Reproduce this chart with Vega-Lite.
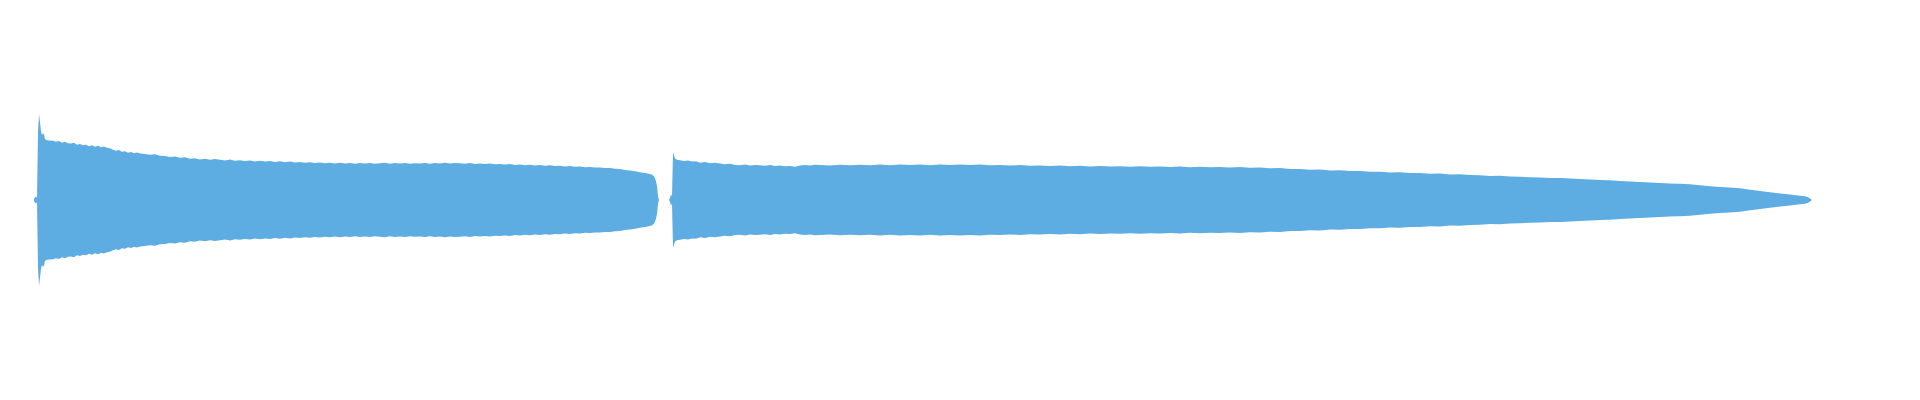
{
  "$schema": "https://vega.github.io/schema/vega-lite/v6.json",
  "width": 1920,
  "height": 400,
  "padding": 0,
  "autosize": {"type": "fit", "contains": "padding"},
  "background": "white",
  "config": {"view": {"stroke": null}},
  "data": {"values": [
    {"seg":1,"t":34,"amp":0.012},{"seg":1,"t":35,"amp":0.027},{"seg":1,"t":36,"amp":0.032},{"seg":1,"t":37,"amp":0.022},
    {"seg":1,"t":38,"amp":0.677},{"seg":1,"t":39,"amp":0.857},{"seg":1,"t":40,"amp":0.777},{"seg":1,"t":41,"amp":0.687},
    {"seg":1,"t":42,"amp":0.647},{"seg":1,"t":43,"amp":0.667},{"seg":1,"t":44,"amp":0.657},{"seg":1,"t":45,"amp":0.607},
    {"seg":1,"t":47,"amp":0.597},{"seg":1,"t":50,"amp":0.594},{"seg":1,"t":53,"amp":0.592},{"seg":1,"t":56,"amp":0.582},
    {"seg":1,"t":59,"amp":0.589},{"seg":1,"t":62,"amp":0.572},{"seg":1,"t":65,"amp":0.582},{"seg":1,"t":68,"amp":0.567},
    {"seg":1,"t":71,"amp":0.565},{"seg":1,"t":74,"amp":0.572},{"seg":1,"t":77,"amp":0.552},{"seg":1,"t":80,"amp":0.559},
    {"seg":1,"t":83,"amp":0.547},{"seg":1,"t":86,"amp":0.552},{"seg":1,"t":89,"amp":0.537},{"seg":1,"t":92,"amp":0.547},
    {"seg":1,"t":95,"amp":0.532},{"seg":1,"t":98,"amp":0.542},{"seg":1,"t":101,"amp":0.527},{"seg":1,"t":104,"amp":0.535},
    {"seg":1,"t":107,"amp":0.522},{"seg":1,"t":110,"amp":0.517},{"seg":1,"t":113,"amp":0.502},{"seg":1,"t":116,"amp":0.492},
    {"seg":1,"t":119,"amp":0.499},{"seg":1,"t":122,"amp":0.482},{"seg":1,"t":125,"amp":0.487},{"seg":1,"t":128,"amp":0.472},
    {"seg":1,"t":131,"amp":0.479},{"seg":1,"t":134,"amp":0.467},{"seg":1,"t":137,"amp":0.475},{"seg":1,"t":140,"amp":0.465},
    {"seg":1,"t":145,"amp":0.459},{"seg":1,"t":150,"amp":0.452},{"seg":1,"t":155,"amp":0.457},{"seg":1,"t":160,"amp":0.442},
    {"seg":1,"t":165,"amp":0.439},{"seg":1,"t":170,"amp":0.429},{"seg":1,"t":175,"amp":0.435},{"seg":1,"t":180,"amp":0.422},
    {"seg":1,"t":185,"amp":0.427},{"seg":1,"t":190,"amp":0.412},{"seg":1,"t":195,"amp":0.417},{"seg":1,"t":200,"amp":0.404},
    {"seg":1,"t":205,"amp":0.412},{"seg":1,"t":210,"amp":0.402},{"seg":1,"t":215,"amp":0.409},{"seg":1,"t":220,"amp":0.402},
    {"seg":1,"t":225,"amp":0.395},{"seg":1,"t":230,"amp":0.404},{"seg":1,"t":235,"amp":0.392},{"seg":1,"t":240,"amp":0.397},
    {"seg":1,"t":245,"amp":0.389},{"seg":1,"t":250,"amp":0.395},{"seg":1,"t":255,"amp":0.385},{"seg":1,"t":260,"amp":0.392},
    {"seg":1,"t":265,"amp":0.384},{"seg":1,"t":270,"amp":0.389},{"seg":1,"t":275,"amp":0.379},{"seg":1,"t":280,"amp":0.387},
    {"seg":1,"t":285,"amp":0.377},{"seg":1,"t":290,"amp":0.384},{"seg":1,"t":295,"amp":0.375},{"seg":1,"t":300,"amp":0.379},
    {"seg":1,"t":305,"amp":0.372},{"seg":1,"t":310,"amp":0.378},{"seg":1,"t":315,"amp":0.369},{"seg":1,"t":320,"amp":0.375},
    {"seg":1,"t":325,"amp":0.367},{"seg":1,"t":330,"amp":0.373},{"seg":1,"t":335,"amp":0.366},{"seg":1,"t":340,"amp":0.372},
    {"seg":1,"t":345,"amp":0.365},{"seg":1,"t":350,"amp":0.371},{"seg":1,"t":355,"amp":0.363},{"seg":1,"t":360,"amp":0.369},
    {"seg":1,"t":365,"amp":0.364},{"seg":1,"t":370,"amp":0.371},{"seg":1,"t":375,"amp":0.362},{"seg":1,"t":380,"amp":0.367},
    {"seg":1,"t":385,"amp":0.372},{"seg":1,"t":390,"amp":0.363},{"seg":1,"t":395,"amp":0.369},{"seg":1,"t":400,"amp":0.364},
    {"seg":1,"t":405,"amp":0.370},{"seg":1,"t":410,"amp":0.362},{"seg":1,"t":415,"amp":0.368},{"seg":1,"t":420,"amp":0.365},
    {"seg":1,"t":425,"amp":0.371},{"seg":1,"t":430,"amp":0.363},{"seg":1,"t":435,"amp":0.370},{"seg":1,"t":440,"amp":0.364},
    {"seg":1,"t":445,"amp":0.372},{"seg":1,"t":450,"amp":0.365},{"seg":1,"t":455,"amp":0.371},{"seg":1,"t":460,"amp":0.367},
    {"seg":1,"t":465,"amp":0.362},{"seg":1,"t":470,"amp":0.369},{"seg":1,"t":475,"amp":0.361},{"seg":1,"t":480,"amp":0.366},
    {"seg":1,"t":485,"amp":0.359},{"seg":1,"t":490,"amp":0.364},{"seg":1,"t":495,"amp":0.357},{"seg":1,"t":500,"amp":0.361},
    {"seg":1,"t":505,"amp":0.354},{"seg":1,"t":510,"amp":0.359},{"seg":1,"t":515,"amp":0.351},{"seg":1,"t":520,"amp":0.356},
    {"seg":1,"t":525,"amp":0.348},{"seg":1,"t":530,"amp":0.352},{"seg":1,"t":535,"amp":0.345},{"seg":1,"t":540,"amp":0.350},
    {"seg":1,"t":545,"amp":0.342},{"seg":1,"t":550,"amp":0.347},{"seg":1,"t":555,"amp":0.339},{"seg":1,"t":560,"amp":0.343},
    {"seg":1,"t":565,"amp":0.335},{"seg":1,"t":570,"amp":0.339},{"seg":1,"t":575,"amp":0.332},{"seg":1,"t":580,"amp":0.335},
    {"seg":1,"t":585,"amp":0.328},{"seg":1,"t":590,"amp":0.331},{"seg":1,"t":595,"amp":0.324},{"seg":1,"t":600,"amp":0.325},
    {"seg":1,"t":605,"amp":0.319},{"seg":1,"t":610,"amp":0.321},{"seg":1,"t":615,"amp":0.313},{"seg":1,"t":620,"amp":0.310},
    {"seg":1,"t":625,"amp":0.301},{"seg":1,"t":630,"amp":0.294},{"seg":1,"t":635,"amp":0.287},{"seg":1,"t":640,"amp":0.277},
    {"seg":1,"t":645,"amp":0.269},{"seg":1,"t":650,"amp":0.260},{"seg":1,"t":652,"amp":0.252},{"seg":1,"t":654,"amp":0.237},
    {"seg":1,"t":655,"amp":0.214},{"seg":1,"t":656,"amp":0.187},{"seg":1,"t":657,"amp":0.137},{"seg":1,"t":658,"amp":0.037},
    {"seg":1,"t":659,"amp":0.0},
    {"seg":2,"t":669,"amp":0.0},{"seg":2,"t":670,"amp":0.017},{"seg":2,"t":671,"amp":0.057},{"seg":2,"t":672,"amp":0.037},
    {"seg":2,"t":673,"amp":0.477},{"seg":2,"t":674,"amp":0.447},{"seg":2,"t":675,"amp":0.414},{"seg":2,"t":677,"amp":0.402},
    {"seg":2,"t":680,"amp":0.397},{"seg":2,"t":684,"amp":0.389},{"seg":2,"t":688,"amp":0.395},{"seg":2,"t":692,"amp":0.384},
    {"seg":2,"t":696,"amp":0.387},{"seg":2,"t":700,"amp":0.372},{"seg":2,"t":705,"amp":0.379},{"seg":2,"t":710,"amp":0.367},
    {"seg":2,"t":715,"amp":0.373},{"seg":2,"t":720,"amp":0.364},{"seg":2,"t":725,"amp":0.357},{"seg":2,"t":730,"amp":0.363},
    {"seg":2,"t":735,"amp":0.351},{"seg":2,"t":740,"amp":0.347},{"seg":2,"t":745,"amp":0.354},{"seg":2,"t":750,"amp":0.344},
    {"seg":2,"t":755,"amp":0.351},{"seg":2,"t":760,"amp":0.347},{"seg":2,"t":765,"amp":0.342},{"seg":2,"t":770,"amp":0.349},
    {"seg":2,"t":775,"amp":0.341},{"seg":2,"t":780,"amp":0.345},{"seg":2,"t":785,"amp":0.337},{"seg":2,"t":790,"amp":0.340},
    {"seg":2,"t":795,"amp":0.332},{"seg":2,"t":800,"amp":0.344},{"seg":2,"t":805,"amp":0.351},{"seg":2,"t":810,"amp":0.345},
    {"seg":2,"t":815,"amp":0.352},{"seg":2,"t":820,"amp":0.350},{"seg":2,"t":830,"amp":0.346},{"seg":2,"t":840,"amp":0.353},
    {"seg":2,"t":850,"amp":0.347},{"seg":2,"t":860,"amp":0.352},{"seg":2,"t":870,"amp":0.347},{"seg":2,"t":880,"amp":0.354},
    {"seg":2,"t":890,"amp":0.348},{"seg":2,"t":900,"amp":0.355},{"seg":2,"t":910,"amp":0.349},{"seg":2,"t":920,"amp":0.355},
    {"seg":2,"t":930,"amp":0.348},{"seg":2,"t":940,"amp":0.354},{"seg":2,"t":950,"amp":0.351},{"seg":2,"t":960,"amp":0.356},
    {"seg":2,"t":970,"amp":0.349},{"seg":2,"t":980,"amp":0.354},{"seg":2,"t":990,"amp":0.347},{"seg":2,"t":1000,"amp":0.351},
    {"seg":2,"t":1010,"amp":0.344},{"seg":2,"t":1020,"amp":0.349},{"seg":2,"t":1030,"amp":0.342},{"seg":2,"t":1040,"amp":0.346},
    {"seg":2,"t":1050,"amp":0.340},{"seg":2,"t":1060,"amp":0.345},{"seg":2,"t":1070,"amp":0.338},{"seg":2,"t":1080,"amp":0.342},
    {"seg":2,"t":1090,"amp":0.336},{"seg":2,"t":1100,"amp":0.339},{"seg":2,"t":1110,"amp":0.334},{"seg":2,"t":1120,"amp":0.338},
    {"seg":2,"t":1130,"amp":0.333},{"seg":2,"t":1140,"amp":0.337},{"seg":2,"t":1150,"amp":0.332},{"seg":2,"t":1160,"amp":0.336},
    {"seg":2,"t":1170,"amp":0.330},{"seg":2,"t":1180,"amp":0.334},{"seg":2,"t":1190,"amp":0.328},{"seg":2,"t":1200,"amp":0.332},
    {"seg":2,"t":1210,"amp":0.327},{"seg":2,"t":1220,"amp":0.331},{"seg":2,"t":1230,"amp":0.325},{"seg":2,"t":1240,"amp":0.329},
    {"seg":2,"t":1250,"amp":0.322},{"seg":2,"t":1260,"amp":0.326},{"seg":2,"t":1270,"amp":0.318},{"seg":2,"t":1280,"amp":0.320},
    {"seg":2,"t":1290,"amp":0.311},{"seg":2,"t":1300,"amp":0.310},{"seg":2,"t":1310,"amp":0.303},{"seg":2,"t":1320,"amp":0.304},
    {"seg":2,"t":1330,"amp":0.296},{"seg":2,"t":1340,"amp":0.297},{"seg":2,"t":1350,"amp":0.289},{"seg":2,"t":1360,"amp":0.291},
    {"seg":2,"t":1370,"amp":0.282},{"seg":2,"t":1380,"amp":0.283},{"seg":2,"t":1390,"amp":0.276},{"seg":2,"t":1400,"amp":0.278},
    {"seg":2,"t":1410,"amp":0.270},{"seg":2,"t":1420,"amp":0.271},{"seg":2,"t":1430,"amp":0.263},{"seg":2,"t":1440,"amp":0.264},
    {"seg":2,"t":1450,"amp":0.256},{"seg":2,"t":1460,"amp":0.257},{"seg":2,"t":1470,"amp":0.249},{"seg":2,"t":1480,"amp":0.248},
    {"seg":2,"t":1490,"amp":0.241},{"seg":2,"t":1500,"amp":0.242},{"seg":2,"t":1510,"amp":0.234},{"seg":2,"t":1520,"amp":0.233},
    {"seg":2,"t":1530,"amp":0.227},{"seg":2,"t":1540,"amp":0.226},{"seg":2,"t":1550,"amp":0.220},{"seg":2,"t":1560,"amp":0.219},
    {"seg":2,"t":1570,"amp":0.214},{"seg":2,"t":1580,"amp":0.209},{"seg":2,"t":1590,"amp":0.206},{"seg":2,"t":1600,"amp":0.200},
    {"seg":2,"t":1610,"amp":0.197},{"seg":2,"t":1620,"amp":0.190},{"seg":2,"t":1630,"amp":0.186},{"seg":2,"t":1640,"amp":0.179},
    {"seg":2,"t":1650,"amp":0.174},{"seg":2,"t":1660,"amp":0.171},{"seg":2,"t":1670,"amp":0.166},{"seg":2,"t":1680,"amp":0.163},
    {"seg":2,"t":1690,"amp":0.157},{"seg":2,"t":1700,"amp":0.147},{"seg":2,"t":1710,"amp":0.138},{"seg":2,"t":1720,"amp":0.129},
    {"seg":2,"t":1730,"amp":0.124},{"seg":2,"t":1740,"amp":0.117},{"seg":2,"t":1750,"amp":0.102},{"seg":2,"t":1760,"amp":0.089},
    {"seg":2,"t":1770,"amp":0.077},{"seg":2,"t":1780,"amp":0.064},{"seg":2,"t":1790,"amp":0.054},{"seg":2,"t":1800,"amp":0.042},
    {"seg":2,"t":1805,"amp":0.037},{"seg":2,"t":1808,"amp":0.027},{"seg":2,"t":1810,"amp":0.014},{"seg":2,"t":1812,"amp":0.0}
  ]},
  "layer": [
    {
      "mark": {"type": "area", "color": "#5dade2", "opacity": 1},
      "encoding": {
        "x": {"field": "t", "type": "quantitative", "scale": {"domain": [0, 1920], "nice": false, "zero": false}, "axis": null},
        "y": {"field": "amp", "type": "quantitative", "stack": null, "scale": {"domain": [-2, 2], "nice": false}, "axis": null},
        "detail": {"field": "seg", "type": "nominal"}
      }
    },
    {
      "mark": {"type": "area", "color": "#5dade2", "opacity": 1},
      "encoding": {
        "x": {"field": "t", "type": "quantitative", "scale": {"domain": [0, 1920], "nice": false, "zero": false}, "axis": null},
        "y": {"field": "amp", "type": "quantitative", "stack": null, "scale": {"domain": [-2, 2], "nice": false, "reverse": true}, "axis": null},
        "detail": {"field": "seg", "type": "nominal"}
      }
    }
  ],
  "resolve": {"scale": {"y": "independent"}}
}
